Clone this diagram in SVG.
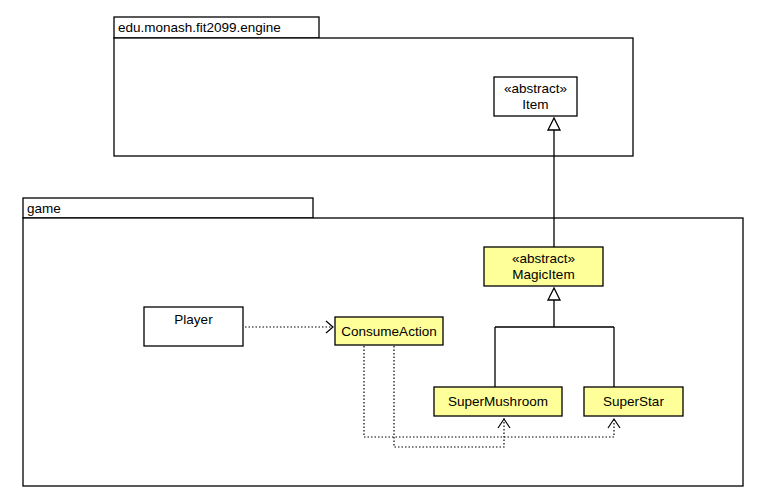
<svg xmlns="http://www.w3.org/2000/svg" width="761" height="502" viewBox="0 0 761 502">
<style>
.pkg{fill:#fff;stroke:#000;stroke-width:1.3}
.cls{fill:#fff;stroke:#000;stroke-width:1.3}
.yel{fill:#ffff99;stroke:#000;stroke-width:1.3}
text{font-family:"Liberation Sans",Arial,sans-serif;font-size:13.5px;fill:#000}
.c{text-anchor:middle}
.solid{fill:none;stroke:#000;stroke-width:1.3}
.dot{fill:none;stroke:#000;stroke-width:1.2;stroke-dasharray:1.5 2}
.tri{fill:#fff;stroke:#000;stroke-width:1.3}
.open{fill:none;stroke:#000;stroke-width:1.2}
</style>
<rect width="761" height="502" fill="#fff"/>
<g id="pkg-engine">
<rect class="pkg" x="114" y="17" width="205" height="21"/>
<rect class="pkg" x="114" y="38" width="519" height="118"/>
<text x="118" y="32">edu.monash.fit2099.engine</text>
</g>
<g id="pkg-game">
<rect class="pkg" x="23" y="198" width="290" height="20"/>
<rect class="pkg" x="23" y="218" width="720" height="268"/>
<text x="27" y="213">game</text>
</g>
<g id="connectors">
<path class="solid" d="M554 130 V247"/>
<polygon class="tri" points="554,118 548,130 560,130"/>
<path class="solid" d="M554 300 V327 M495 327 H614 M495 327 V387 M614 327 V387"/>
<polygon class="tri" points="554,288 548,300 560,300"/>
<path class="dot" d="M245 327 H333"/>
<path class="open" d="M326 321 L333 327 L326 333"/>
<path class="dot" d="M364 346 V437 H614 V418"/>
<path class="open" d="M608 428 L614 419 L620 428"/>
<path class="dot" d="M394 346 V447 H504 V418"/>
<path class="open" d="M498 428 L504 419 L510 428"/>
</g>
<g id="Item">
<rect class="cls" x="494" y="77" width="83" height="39"/>
<text class="c" x="535.5" y="93">«abstract»</text>
<text class="c" x="535.5" y="109">Item</text>
</g>
<g id="MagicItem">
<rect class="yel" x="484" y="247" width="119" height="39"/>
<text class="c" x="543.5" y="263">«abstract»</text>
<text class="c" x="543.5" y="279">MagicItem</text>
</g>
<g id="Player">
<rect class="cls" x="144" y="307" width="99" height="39"/>
<text class="c" x="193.5" y="324">Player</text>
</g>
<g id="ConsumeAction">
<rect class="yel" x="335" y="317" width="108" height="28"/>
<text class="c" x="389" y="336">ConsumeAction</text>
</g>
<g id="SuperMushroom">
<rect class="yel" x="434" y="387" width="128" height="29"/>
<text class="c" x="498" y="406">SuperMushroom</text>
</g>
<g id="SuperStar">
<rect class="yel" x="584" y="387" width="99" height="29"/>
<text class="c" x="633.5" y="406">SuperStar</text>
</g>
</svg>
